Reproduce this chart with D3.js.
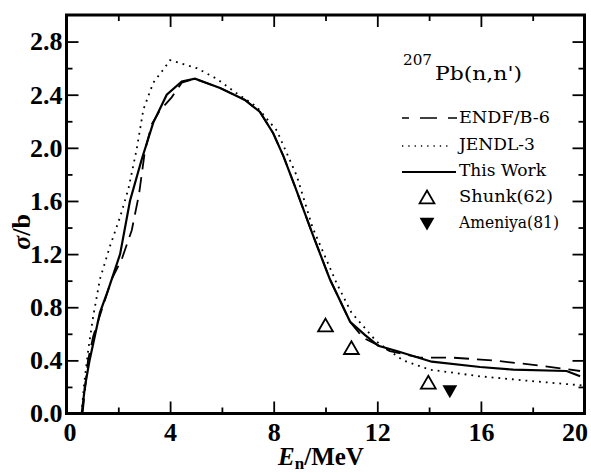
<!DOCTYPE html>
<html>
<head>
<meta charset="utf-8">
<script src="https://cdn.jsdelivr.net/npm/d3@7"></script>
<style>
  body { margin: 0; background: #fff; }
  svg { display: block; }
</style>
</head>
<body>
<div id="chart-area"></div>
<script>
// ---- data (E in MeV, sigma in b) ----
var thisWork = [
  [0.59, 0.0], [0.71, 0.20], [0.88, 0.39], [1.29, 0.76], [1.61, 0.93],
  [2.07, 1.20], [2.45, 1.60], [2.90, 1.91], [3.35, 2.19], [3.87, 2.40],
  [4.45, 2.50], [4.96, 2.52], [5.93, 2.45], [6.89, 2.36], [7.47, 2.27],
  [7.98, 2.11], [8.37, 1.94], [8.82, 1.71], [9.5, 1.35], [10.17, 1.01],
  [10.95, 0.69], [11.53, 0.59], [12.04, 0.51], [12.75, 0.47], [14.1, 0.39],
  [15.97, 0.35], [17.25, 0.33], [19.31, 0.32], [19.83, 0.28]
];

var endf = [
  [0.62, 0.0], [0.75, 0.25], [0.83, 0.40], [1.03, 0.58], [1.74, 1.01],
  [2.13, 1.16], [2.52, 1.38], [2.80, 1.65], [3.03, 1.98], [3.3, 2.18],
  [3.6, 2.28], [4.06, 2.38], [4.45, 2.49], [4.96, 2.52], [5.93, 2.45],
  [6.89, 2.36], [7.47, 2.27], [7.98, 2.11], [8.37, 1.94], [8.82, 1.71],
  [9.5, 1.35], [10.17, 1.01], [10.95, 0.69], [11.45, 0.57], [12.49, 0.47],
  [13.65, 0.42], [14.93, 0.42], [16.47, 0.40], [18.28, 0.36], [19.83, 0.32]
];

var jendl = [
  [0.58, 0.0], [0.68, 0.22], [0.84, 0.48], [1.03, 0.73], [1.29, 1.01],
  [1.68, 1.26], [2.07, 1.48], [2.39, 1.69], [2.71, 1.99], [2.97, 2.29],
  [3.35, 2.49], [3.74, 2.59], [4.0, 2.66], [5.03, 2.60], [5.80, 2.52],
  [6.57, 2.41], [7.34, 2.31], [8.12, 2.13], [8.89, 1.79], [9.5, 1.40],
  [10.43, 0.98], [11.0, 0.76], [11.98, 0.54], [13.0, 0.40], [14.03, 0.33],
  [15.97, 0.28], [17.9, 0.245], [20.0, 0.21]
];

var shunk = [[10.0, 0.65], [11.0, 0.48], [13.97, 0.22]];
var ameniya = [[14.8, 0.18]];

var xTicks = [0, 4, 8, 12, 16, 20];
var xMinor = [2, 6, 10, 14, 18];
var yTicks = [0, 0.4, 0.8, 1.2, 1.6, 2.0, 2.4, 2.8];
var yMinor = [0.2, 0.6, 1.0, 1.4, 1.8, 2.2, 2.6];

// ---- layout ----
var svgWidth = 591, svgHeight = 473;
var margin = { top: 15, left: 66.5, bottom: 59.5, right: 6.5 };
var width = svgWidth - margin.left - margin.right;
var height = svgHeight - margin.top - margin.bottom;

var svg = d3.select("#chart-area").append("svg")
    .attr("width", svgWidth)
    .attr("height", svgHeight);

var graph = svg.append("g")
    .attr("transform", "translate(" + margin.left + "," + margin.top + ")");

var xScale = d3.scaleLinear().domain([0, 20]).range([0, width]);
var yScale = d3.scaleLinear().domain([0, 3.0]).range([height, 0]);

var tickFont = "'Liberation Serif', 'Times New Roman', serif";

function styleAxis(g) {
  g.select(".domain").remove();
  g.selectAll("line").attr("stroke", "#000").attr("stroke-width", 1.8);
  g.selectAll("text")
    .attr("font-family", tickFont)
    .attr("font-weight", "bold")
    .attr("font-size", "26px")
    .attr("fill", "#000");
}

// bottom
var xAxisG = graph.append("g")
    .attr("transform", "translate(0," + height + ")")
    .call(d3.axisBottom(xScale).tickValues(xTicks).tickSize(-12).tickPadding(9).tickFormat(d3.format("d")))
    .call(styleAxis);
// nudge the end labels inside the page, as in the figure
xAxisG.selectAll(".tick text")
    .attr("x", d => d === 0 ? 3 : (d === 20 ? -10 : 0));

graph.append("g")
    .attr("transform", "translate(0," + height + ")")
    .call(d3.axisBottom(xScale).tickValues(xMinor).tickSize(-6).tickFormat(""))
    .call(styleAxis);
// top
graph.append("g")
    .call(d3.axisTop(xScale).tickValues(xTicks).tickSize(-12).tickFormat(""))
    .call(styleAxis);
graph.append("g")
    .call(d3.axisTop(xScale).tickValues(xMinor).tickSize(-6).tickFormat(""))
    .call(styleAxis);
// left
graph.append("g")
    .call(d3.axisLeft(yScale).tickValues(yTicks).tickSize(-12).tickPadding(4).tickFormat(d3.format(".1f")))
    .call(styleAxis);
graph.append("g")
    .call(d3.axisLeft(yScale).tickValues(yMinor).tickSize(-6).tickFormat(""))
    .call(styleAxis);
// right
graph.append("g")
    .attr("transform", "translate(" + width + ",0)")
    .call(d3.axisRight(yScale).tickValues(yTicks).tickSize(-12).tickFormat(""))
    .call(styleAxis);
graph.append("g")
    .attr("transform", "translate(" + width + ",0)")
    .call(d3.axisRight(yScale).tickValues(yMinor).tickSize(-6).tickFormat(""))
    .call(styleAxis);

// frame
graph.append("rect")
    .attr("width", width)
    .attr("height", height)
    .attr("fill", "none")
    .attr("stroke", "#000")
    .attr("stroke-width", 3);

// axis titles
var xLabel = svg.append("text")
    .attr("x", 321)
    .attr("y", 465)
    .attr("text-anchor", "middle")
    .attr("font-family", tickFont)
    .attr("font-weight", "bold")
    .attr("font-size", "25px");
xLabel.append("tspan").attr("font-style", "italic").text("E");
xLabel.append("tspan").attr("font-size", "17px").attr("dy", 4).text("n");
xLabel.append("tspan").attr("dy", -4).text("/MeV");

var yLabel = svg.append("text")
    .attr("transform", "translate(30,232) rotate(-90)")
    .attr("text-anchor", "middle")
    .attr("font-family", tickFont)
    .attr("font-weight", "bold")
    .attr("font-size", "26px");
yLabel.append("tspan").attr("font-style", "italic").text("σ");
yLabel.append("tspan").text("/b");

// curves
var line = d3.line()
    .x(d => xScale(d[0]))
    .y(d => yScale(d[1]));

graph.append("path")
    .datum(jendl)
    .attr("d", line)
    .attr("fill", "none")
    .attr("stroke", "#000")
    .attr("stroke-width", 1.8)
    .attr("stroke-dasharray", "1.8,5");

graph.append("path")
    .datum(endf)
    .attr("d", line)
    .attr("fill", "none")
    .attr("stroke", "#000")
    .attr("stroke-width", 1.8)
    .attr("stroke-dasharray", "15,8");

graph.append("path")
    .datum(thisWork)
    .attr("d", line)
    .attr("fill", "none")
    .attr("stroke", "#000")
    .attr("stroke-width", 2.2);

// experimental points
var tri = d3.symbol().type(d3.symbolTriangle).size(95);

graph.selectAll(".shunk")
    .data(shunk)
    .enter()
    .append("path")
    .attr("class", "shunk")
    .attr("d", tri)
    .attr("transform", d => "translate(" + xScale(d[0]) + "," + yScale(d[1]) + ")")
    .attr("fill", "#fff")
    .attr("stroke", "#000")
    .attr("stroke-width", 1.8);

graph.selectAll(".ameniya")
    .data(ameniya)
    .enter()
    .append("path")
    .attr("class", "ameniya")
    .attr("d", tri)
    .attr("transform", d => "translate(" + xScale(d[0]) + "," + yScale(d[1]) + ") rotate(180)")
    .attr("fill", "#000");

// legend (svg coords)
var legFont = "'DejaVu Serif', serif";
function legText(x, y, str, len, size) {
  return svg.append("text")
    .attr("x", x)
    .attr("y", y)
    .attr("font-family", legFont)
    .attr("font-size", size || "16px")
    .attr("textLength", len)
    .attr("lengthAdjust", "spacingAndGlyphs")
    .text(str);
}

legText(403, 65, "207", 29, "14px");
legText(435, 80, "Pb(n,n')", 87, "18px");

svg.append("line")
    .attr("x1", 402).attr("x2", 457).attr("y1", 118).attr("y2", 118)
    .attr("stroke", "#000").attr("stroke-width", 1.6)
    .attr("stroke-dasharray", "7,11,17,11,9");
legText(459, 123, "ENDF/B-6", 91);

svg.append("line")
    .attr("x1", 402).attr("x2", 450).attr("y1", 146).attr("y2", 146)
    .attr("stroke", "#000").attr("stroke-width", 1.3)
    .attr("stroke-dasharray", "1.3,5");
legText(459, 150, "JENDL-3", 76);

svg.append("line")
    .attr("x1", 402).attr("x2", 456).attr("y1", 172).attr("y2", 172)
    .attr("stroke", "#000").attr("stroke-width", 1.8);
legText(459, 176, "This Work", 87);

svg.append("path")
    .attr("d", tri)
    .attr("transform", "translate(427,199)")
    .attr("fill", "#fff")
    .attr("stroke", "#000")
    .attr("stroke-width", 1.8);
legText(459, 202, "Shunk(62)", 94);

svg.append("path")
    .attr("d", tri)
    .attr("transform", "translate(427,222) rotate(180)")
    .attr("fill", "#000");
legText(459, 228, "Ameniya(81)", 100);
</script>
</body>
</html>
